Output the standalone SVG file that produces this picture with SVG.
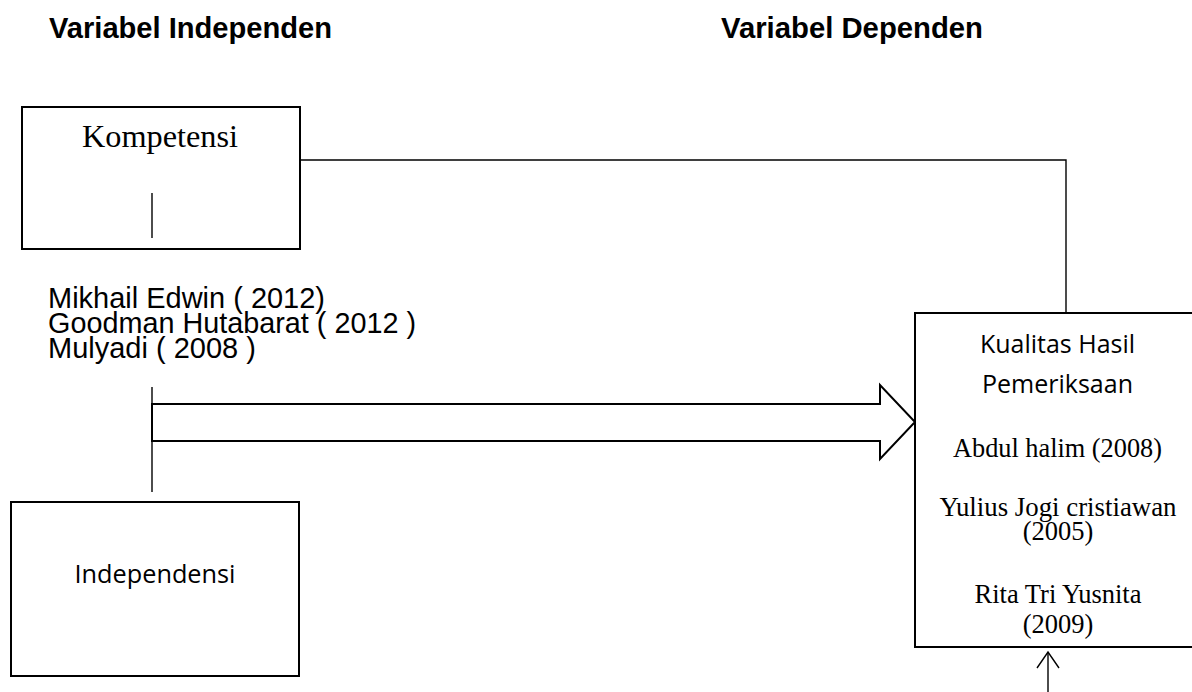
<svg xmlns="http://www.w3.org/2000/svg" width="1192" height="692" viewBox="0 0 1192 692">
<style>
.box{fill:#fff;stroke:#000;stroke-width:2}
.ln{fill:none;stroke:#000;stroke-width:1.4}
.blk{fill:#fff;stroke:#000;stroke-width:2;stroke-linejoin:miter}
.hd{font-family:"Liberation Sans",Arial,sans-serif;font-weight:bold;font-size:29px;fill:#000}
.sans{font-family:"Liberation Sans",Arial,sans-serif;font-size:29px;fill:#000}
.cal{font-family:"Open Sans","Noto Sans",sans-serif;font-size:26px;fill:#000}
.ser{font-family:"Liberation Serif","Times New Roman",serif;font-size:26.5px;fill:#000}
</style>
<rect width="1192" height="692" fill="#fff"/>
<g id="headers">
<text class="hd" x="49" y="38" textLength="283" lengthAdjust="spacingAndGlyphs">Variabel Independen</text>
<text class="hd" x="721" y="38" textLength="262" lengthAdjust="spacingAndGlyphs">Variabel Dependen</text>
</g>
<g id="connectors">
<polyline class="ln" points="300,160 1066,160 1066,313"/>
<line class="ln" x1="152" y1="387" x2="152" y2="492"/>
<path class="blk" d="M152,404 H880 V385 L915,422 L880,459 V441 H152 Z"/>
<line class="ln" x1="1048" y1="653" x2="1048" y2="692"/>
<polyline class="ln" points="1037,668 1048,652 1059,668"/>
</g>
<g id="kompetensi">
<rect class="box" x="22" y="107" width="278" height="142"/>
<text x="160" y="147" text-anchor="middle" font-family="'Liberation Serif','Times New Roman',serif" font-size="31" textLength="156" lengthAdjust="spacingAndGlyphs">Kompetensi</text>
<line class="ln" x1="152" y1="193" x2="152" y2="238"/>
</g>
<g id="references">
<text class="sans" x="48" y="308" textLength="277" lengthAdjust="spacingAndGlyphs">Mikhail Edwin ( 2012)</text>
<text class="sans" x="48" y="333" textLength="368" lengthAdjust="spacingAndGlyphs">Goodman Hutabarat ( 2012 )</text>
<text class="sans" x="48" y="358">Mulyadi ( 2008 )</text>
</g>
<g id="independensi">
<rect class="box" x="11" y="502" width="288" height="174"/>
<text class="cal" x="155" y="583" text-anchor="middle" textLength="161" lengthAdjust="spacingAndGlyphs">Independensi</text>
</g>
<g id="kualitas">
<rect class="box" x="915" y="313" width="290" height="334"/>
<text class="cal" x="1057.5" y="353" text-anchor="middle" textLength="155" lengthAdjust="spacingAndGlyphs">Kualitas Hasil</text>
<text class="cal" x="1057.5" y="393" text-anchor="middle" textLength="151" lengthAdjust="spacingAndGlyphs">Pemeriksaan</text>
<text class="ser" x="1057.5" y="457" text-anchor="middle" textLength="209" lengthAdjust="spacingAndGlyphs">Abdul halim (2008)</text>
<text class="ser" x="1058" y="516" text-anchor="middle" textLength="237" lengthAdjust="spacingAndGlyphs">Yulius Jogi cristiawan</text>
<text class="ser" x="1058" y="540" text-anchor="middle">(2005)</text>
<text class="ser" x="1058" y="603" text-anchor="middle">Rita Tri Yusnita</text>
<text class="ser" x="1058" y="633" text-anchor="middle">(2009)</text>
</g>
</svg>
